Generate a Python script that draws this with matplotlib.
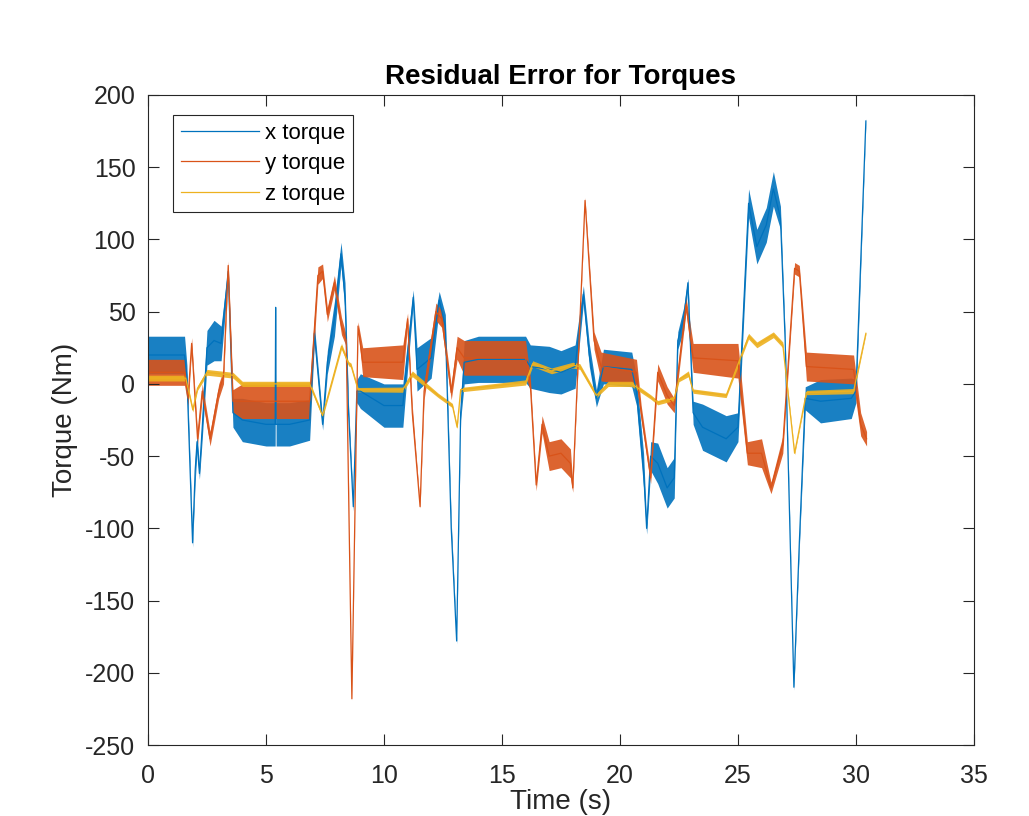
import numpy as np
import matplotlib.pyplot as plt

plt.rcParams['font.family'] = ['Liberation Sans', 'DejaVu Sans']
plt.rcParams['axes.unicode_minus'] = False

# values: knot time, centre value, noise half-width (Nm)
t_x = [0.0, 1.55, 1.65, 1.89, 2.0, 2.08, 2.18, 2.3, 2.5, 2.8, 3.1, 3.4, 3.6, 4.0, 5.0, 5.39, 5.41, 5.43,
       6.0, 6.85, 7.05, 7.4, 7.6, 7.9, 8.18, 8.35, 8.5, 8.7, 8.85, 9.0, 10.0, 10.8, 11.0, 11.24, 11.4,
       12.0, 12.34, 12.6, 12.85, 13.08, 13.25, 13.4, 14.0, 15.0, 16.0, 16.2, 17.0, 17.5, 18.1, 18.45,
       18.7, 19.0, 19.3, 20.5, 20.7, 21.0, 21.13, 21.3, 21.6, 22.0, 22.3, 22.45, 22.7, 22.88, 23.1,
       23.5, 24.5, 25.0, 25.45, 25.8, 26.2, 26.5, 26.8, 27.0, 27.37, 27.6, 27.85, 28.5, 29.8, 30.0, 30.42]
x_mid = [20, 20, 5, -110, -60, -40, -62, -30, 25, 30, 28, 78, -20, -25, -28, -28, 53, -28,
         -28, -25, 35, -28, 15, 45, 90, 60, -20, -85, -5, -5, -15, -15, 20, 60, 10,
         18, 58, 40, -100, -178, -20, 15, 17, 17, 17, 12, 10, 8, 12, 62,
         20, -10, 12, 10, -5, -60, -100, -50, -55, -72, -65, 30, 45, 70, -20,
         -30, -38, -30, 125, 95, 110, 135, 115, 30, -210, -110, -10, -12, -10, -5, 182]
x_half = [13, 13, 8, 3, 8, 6, 4, 8, 12, 14, 12, 4, 10, 15, 15, 15, 1, 15,
          15, 14, 6, 4, 8, 12, 8, 10, 5, 3, 8, 12, 15, 15, 10, 5, 15,
          14, 6, 8, 5, 2, 5, 15, 16, 16, 16, 15, 16, 15, 15, 6,
          8, 6, 12, 12, 10, 12, 4, 10, 14, 14, 14, 6, 8, 3, 8,
          16, 16, 10, 10, 12, 12, 12, 8, 4, 2, 4, 8, 15, 14, 8, 2]

t_y = [0.0, 1.55, 1.7, 1.85, 2.1, 2.3, 2.63, 3.0, 3.2, 3.4, 3.6, 4.0, 6.85, 7.2, 7.4, 7.6, 7.9, 8.2,
       8.4, 8.64, 8.9, 9.1, 10.8, 11.0, 11.2, 11.53, 11.7, 12.2, 12.45, 12.85, 13.1, 13.4, 16.0, 16.2,
       16.45, 16.7, 17.0, 17.5, 17.9, 18.0, 18.52, 18.9, 19.2, 20.7, 20.9, 21.3, 21.6, 22.0, 22.3,
       22.8, 23.1, 25.0, 25.4, 26.0, 26.4, 26.9, 27.4, 27.6, 27.9, 29.9, 30.2, 30.45]
y_mid = [8, 8, -10, 28, -38, -5, -38, -5, 5, 82, -12, -12, -12, 75, 78, 48, 70, 40,
         30, -218, 40, 15, 15, 45, -20, -85, -5, 50, 45, -6, 25, 18, 18, 0,
         -70, -28, -50, -48, -55, -72, 127, 30, 12, 8, -20, -65, 8, -8, -15,
         55, 18, 16, -48, -48, -72, -42, 80, 78, 12, 10, -28, -38]
y_half = [9, 9, 5, 4, 4, 5, 5, 5, 5, 3, 8, 12, 12, 6, 5, 5, 5, 6,
          4, 1, 3, 10, 12, 4, 5, 1, 6, 6, 6, 5, 8, 12, 12, 5,
          4, 6, 10, 10, 10, 3, 2, 6, 10, 9, 5, 4, 6, 6, 5,
          5, 10, 12, 8, 10, 4, 6, 4, 4, 10, 10, 8, 5]

t_z = [0.0, 1.6, 1.9, 2.1, 2.5, 3.6, 4.0, 6.85, 7.4, 8.2, 8.5, 8.6, 8.9, 10.8, 11.2, 12.3, 12.9, 13.1,
       13.25, 16.0, 16.3, 17.1, 18.0, 18.3, 19.0, 19.5, 20.5, 21.3, 21.6, 22.3, 22.5, 22.9, 23.1, 24.5,
       25.45, 25.8, 26.5, 26.9, 27.4, 27.9, 29.9, 30.42]
z_mid = [4, 4, -18, -3, 8, 6, 0, 0, -22, 26, 14, 13, -4, -4, 7, -8, -15, -30,
         -4, 1, 14, 9, 13, 12, -8, 0, 0, -9, -13, -10, 3, 7, -5, -8,
         33, 27, 34, 27, -48, -6, -5, 35]
z_half = [2, 2, 1.5, 1.5, 2, 2, 1.8, 1.8, 1.5, 2, 1.5, 1.5, 1.5, 1.8, 2, 1.5, 1.5, 1,
          1.5, 1.8, 2, 2, 2, 2, 1.5, 1.8, 1.8, 1.5, 1.5, 1.5, 1.5, 2, 1.5, 1.5,
          2, 2, 2, 2, 1, 1.5, 1.8, 1]

series = [
    ('x torque', t_x, x_mid, x_half, '#0072BD'),
    ('y torque', t_y, y_mid, y_half, '#D95319'),
    ('z torque', t_z, z_mid, z_half, '#EDB120'),
]

fig = plt.figure(figsize=(10.29, 8.16), dpi=100)
ax = fig.add_axes([0.1438, 0.0870, 0.8027, 0.7966])

for name, t, mid, half, col in series:
    t = np.array(t)
    mid = np.array(mid, dtype=float)
    half = np.array(half, dtype=float)
    ax.fill_between(t, mid - half, mid + half, color=col, lw=0, alpha=0.9)
    ax.plot(t, mid, color=col, lw=0.9, label=name)

ax.set_xlim(0, 35)
ax.set_ylim(-250, 200)
ax.set_xticks(np.arange(0, 36, 5))
ax.set_yticks(np.arange(-250, 201, 50))

axc = '#262626'
for s in ax.spines.values():
    s.set_color(axc)
    s.set_linewidth(0.8)
ax.tick_params(direction='in', length=8, width=0.8, color=axc, labelcolor=axc,
               labelsize=18, top=True, right=True)
ax.tick_params(axis='x', pad=14)
ax.tick_params(axis='y', pad=9)

ax.set_title('Residual Error for Torques', fontsize=20, fontweight='bold', pad=8)
ax.set_xlabel('Time (s)', fontsize=20, color=axc)
ax.set_ylabel('Torque (Nm)', fontsize=20, color=axc)
ax.xaxis.set_label_coords(0.5, -0.068)
ax.yaxis.set_label_coords(-0.085, 0.5)

leg = ax.legend(loc='upper left', bbox_to_anchor=(0.0303, 0.969), borderaxespad=0,
                fontsize=16, fancybox=False, framealpha=1, edgecolor=axc,
                handlelength=3.5, handletextpad=0.3, labelspacing=0.42, borderpad=0.35)
leg.get_frame().set_linewidth(0.8)

fig.savefig('out.png', dpi=100)
